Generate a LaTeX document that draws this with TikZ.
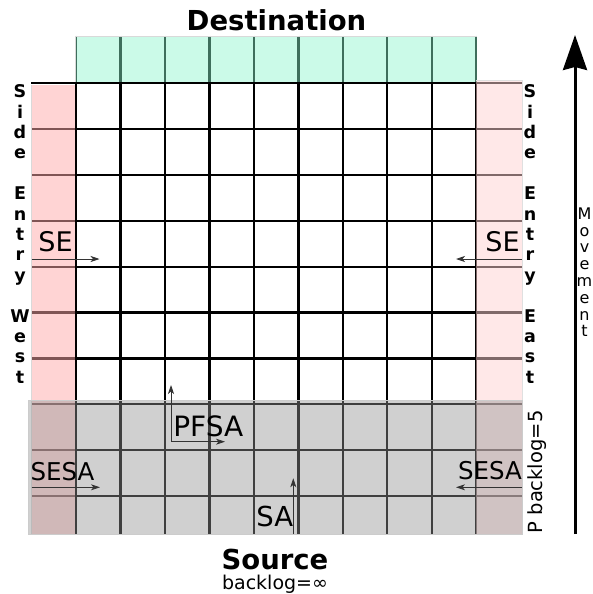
\documentclass[tikz,border=0pt]{standalone}
\usepackage{fontspec}
\setmainfont{DejaVu Sans}
\usetikzlibrary{arrows.meta}
\definecolor{mint}{RGB}{140,246,206}
\definecolor{pinkW}{RGB}{255,170,170}
\definecolor{pinkE}{RGB}{255,210,210}
\begin{document}
\begin{tikzpicture}[x=1pt,y=-1pt,
  gridline/.style={line width=2.2pt,black},
  lbl/.style={inner sep=0pt,anchor=base},
  ptr/.style={draw=black!80,line width=0.8pt,-{Stealth[length=9pt,width=6pt,inset=2.5pt]}},
  sidelet/.style={inner sep=0pt,anchor=base,font=\fontsize{17.5}{20}\selectfont\bfseries},
  movlet/.style={inner sep=0pt,anchor=base,font=\fontsize{16}{18}\selectfont},
  bigfont/.style={font=\fontsize{27.5}{32}\selectfont\bfseries},
]
\useasboundingbox (0,0) rectangle (592,594);
\fill[white] (0,0) rectangle (592,594);
% grid
\foreach \k in {0,...,9} \draw[gridline] ({76+44.48*\k},36) -- ({76+44.48*\k},534);
\foreach \k in {0,...,9} \draw[gridline] (31,{83.3+45.85*\k}) -- (522,{83.3+45.85*\k});
% coloured areas
\fill[mint,opacity=0.45] (75,36) rectangle (477,82);
\draw[black!15,line width=0.8pt] (75,82) -- (75,36) -- (477,36);
\fill[pinkW,opacity=0.5] (31,84.5) rectangle (75,534);
\draw[black!15,line width=0.8pt] (31,84.5) -- (31,534);
\fill[pinkE,opacity=0.5] (475.5,80) rectangle (522,534);
\draw[black!12,line width=0.8pt] (475.5,80) -- (522,80) -- (522,534);
\fill[black!42,opacity=0.43] (28,400) rectangle (522,534);
\draw[black!20,line width=0.8pt] (28,400) rectangle (522,534);
% titles
\node[lbl,bigfont] (dest) at (276.5,30.7) {Destination};
\node[lbl,bigfont] (src) at (275,569) {Source};
\node[lbl,font=\fontsize{19}{23}\selectfont] (srcb) at (275,589) {backlog=∞};
% side letters
\foreach \ch [count=\k from 0] in {S,i,d,e,{},E,n,t,r,y,{},W,e,s,t}
  \node[sidelet] (w\k) at (20,{97.7+20.4*\k}) {\ch};
\foreach \ch [count=\k from 0] in {S,i,d,e,{},E,n,t,r,y,{},E,a,s,t}
  \node[sidelet] (e\k) at (530,{97.7+20.4*\k}) {\ch};
\foreach \ch [count=\k from 0] in {M,o,v,e,m,e,n,t}
  \node[movlet] (m\k) at (584.5,{219.3+16.8*\k}) {\ch};
\node[inner sep=0pt,anchor=base west,rotate=90,font=\fontsize{19.5}{23}\selectfont] (pbl) at (542.5,533.5) {P backlog=5};
% labels
\node[lbl,font=\fontsize{27}{32}\selectfont] (seW) at (55.5,251.7) {SE};
\node[lbl,font=\fontsize{27}{32}\selectfont] (seE) at (502.5,251.7) {SE};
\node[lbl,font=\fontsize{24.5}{29}\selectfont] (sesaW) at (62.5,480) {SESA};
\node[lbl,font=\fontsize{24.5}{29}\selectfont] (sesaE) at (490,479.5) {SESA};
\node[lbl,font=\fontsize{28}{33}\selectfont] (pfsa) at (208.3,436) {PFSA};
\node[lbl,font=\fontsize{27.5}{33}\selectfont] (sa) at (274.7,526.7) {SA};
% pointer arrows
\coordinate (seWa) at (31.7,259); \coordinate (seWb) at (99.5,259);
\coordinate (seEa) at (522,259); \coordinate (seEb) at (456,259);
\coordinate (sesaWa) at (31.7,487.3); \coordinate (sesaWb) at (100,487.3);
\coordinate (sesaEa) at (522,487.3); \coordinate (sesaEb) at (456,487.3);
\coordinate (pfc) at (171,441.7); \coordinate (pfu) at (171,385); \coordinate (pfr) at (225,441.7);
\coordinate (sab) at (293.3,533.5); \coordinate (sat) at (293.3,478.3);
\draw[ptr] (seWa) -- (seWb);
\draw[ptr] (seEa) -- (seEb);
\draw[ptr] (sesaWa) -- (sesaWb);
\draw[ptr] (sesaEa) -- (sesaEb);
\draw[ptr] (pfc) -- (pfu);
\draw[ptr] (pfc) -- (pfr);
\draw[ptr] (sab) -- (sat);
% movement arrow
\coordinate (mvb) at (575,534); \coordinate (mvt) at (575,35);
\draw[line width=3pt,-{Stealth[length=35pt,width=24pt,inset=3pt]}] (mvb) -- (mvt);
\end{tikzpicture}
\end{document}
